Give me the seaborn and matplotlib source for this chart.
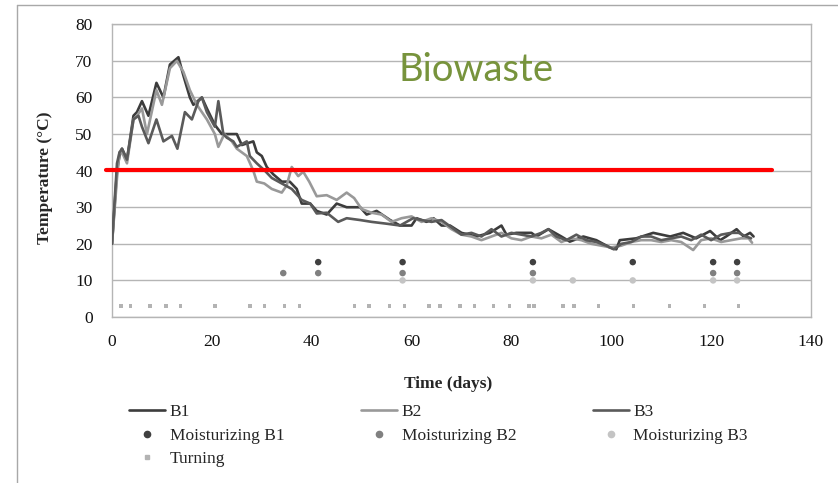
import matplotlib
matplotlib.use("Agg")
import matplotlib.pyplot as plt
from matplotlib.lines import Line2D
import seaborn as sns
import pandas as pd

# ---------------- data ----------------
b1_days = [0, 1, 1.5, 2, 3, 4.3, 5, 6, 7.3, 8.9, 10.3, 11.6, 13.3, 14.3, 15.6, 16.3, 18, 19,
           20.6, 22, 24.3, 25, 26, 28.3, 29, 30, 31, 32.3, 34, 35.6, 37, 38, 39.7, 41, 43, 45,
           47, 49.7, 51, 53, 55.7, 57.7, 60, 61, 63, 64.4, 66, 67.7, 70, 73, 75.7, 78, 79, 81,
           84, 85, 87.4, 90, 91.7, 94.4, 97, 99.7, 101, 101.7, 105, 108.4, 111.8, 114.4, 117,
           119.8, 121.8, 123, 125.1, 126.5, 127.8, 128.5]
b1_temp = [20, 40, 44, 46, 43, 55, 56, 59, 55, 64, 60, 69, 71, 66, 60, 58, 60, 57,
           52.5, 50, 50, 50, 47, 48, 45, 44, 41, 39, 37, 37, 35, 31, 31, 29, 28, 31,
           30, 30, 28, 29, 26.5, 25, 25, 27, 26, 27, 25, 25, 23, 22, 23, 25, 22.5, 23,
           23, 22, 24, 22, 20.6, 22, 21, 19, 18.5, 21, 21.5, 23, 22, 23, 21.5,
           23.5, 21, 22, 24, 22, 23, 22]

b2_days = [0, 1, 1.5, 2, 3, 4.3, 5, 6, 7, 8.9, 10, 11.6, 13, 14.3, 15.6, 17, 19, 20.6, 21.3,
           22.5, 24, 25, 27, 28.3, 29, 30.5, 32, 34, 35, 36, 37.3, 38.3, 39.5, 41, 43, 45, 47,
           48.5, 50, 52, 54, 56, 58, 60, 62, 64, 66, 68, 70, 72, 74, 76, 78, 80, 82, 84, 86,
           88, 90, 92, 94, 96, 98, 100, 102, 104, 106, 108, 110, 112, 114, 116.4, 118, 120,
           122, 124, 126, 127.5, 128.2]
b2_temp = [20, 38, 45, 45, 42, 54, 55, 57, 50, 62, 58, 68, 70, 67, 62, 58, 54, 50, 46.5,
           50, 48, 46, 44, 40, 37, 36.5, 35, 34, 36, 41, 38.5, 39.7, 37, 33, 33.3, 32, 34,
           32.5, 29.5, 28.5, 28, 26, 27, 27.5, 26, 27, 26, 24, 22.5, 22, 21, 22, 23, 21.5, 21, 22, 21.5,
           22.5, 20.5, 21.5, 21, 20, 19.5, 19, 19.5, 20.5, 21, 21, 20.5, 21, 20.5, 18.3, 21, 21.5,
           20.5, 21, 21.5, 21.5, 20.3]

b3_days = [0, 1, 1.5, 2, 3, 4.3, 5.3, 6, 7.3, 8.9, 10.3, 12, 13.1, 14.6, 16, 17.3, 18, 19, 20.6,
           21.3, 22.3, 23, 24.3, 25, 27, 27.6, 29, 30.6, 32, 34, 36, 38, 39.7, 41, 43, 45.3, 47,
           49.7, 52, 55, 57.7, 60.3, 62, 64, 66, 68, 70, 72, 74, 76, 78, 80, 82, 84, 86, 87.4,
           89, 91, 93, 95, 97, 99, 100.5, 102, 104, 106, 108, 110, 112, 114, 116, 118, 120,
           122, 124, 125.5, 127, 128]
b3_temp = [20, 42, 45, 46, 43, 54, 55, 52, 47.5, 54, 48, 49.5, 46, 56, 54, 59, 60, 56, 52,
           59, 50, 49, 48, 46.5, 48, 44, 42, 40, 38, 36.5, 35, 32, 31, 28.3, 28.5, 26, 27,
           26.5, 26, 25.5, 25, 27, 26.5, 26, 26.5, 24.5, 22.5, 23, 22, 24, 22, 23, 22.5, 22, 23, 24,
           22, 21, 22.5, 21, 20.5, 19.5, 18.5, 20, 20.5, 22, 22, 21, 21.5, 22, 21, 22.5, 21,
           22.5, 23, 23, 22, 21.5]

moist_b1_days = [41.3, 58.2, 84.3, 104.3, 120.4, 125.2]
moist_b1_temp = [15, 15, 15, 15, 15, 15]
moist_b2_days = [34.3, 41.3, 58.2, 84.3, 120.4, 125.2]
moist_b2_temp = [12, 12, 12, 12, 12, 12]
moist_b3_days = [58.2, 84.3, 92.3, 104.3, 120.4, 125.2]
moist_b3_temp = [10, 10, 10, 10, 10, 10]

turning_days = [1.8, 3.7, 7.6, 10.8, 13.7, 20.6, 27.6, 30.5, 34.6, 37.6, 48.6, 51.5, 55.6,
                58.6, 63.5, 65.7, 69.7, 72.6, 76.4, 79.6, 83.5, 84.5, 90.3, 92.5, 97.4, 104.5,
                111.6, 118.7, 125.5]
turning_temp = [3] * len(turning_days)

threshold = 40.3
threshold_span = [-1.2, 132.1]

x_ticks = [0, 20, 40, 60, 80, 100, 120, 140]
y_ticks = [0, 10, 20, 30, 40, 50, 60, 70, 80]

# ---------------- styling ----------------
sns.set_style("white")
plt.rcParams["font.family"] = ["Liberation Serif", "DejaVu Serif"]

W, H = 838, 483
fig = plt.figure(figsize=(W / 100, H / 100), dpi=100)
ax = fig.add_axes([112 / W, 1 - 317 / H, (811 - 112) / W, (317 - 24.3) / H])

line_df = pd.concat([
    pd.DataFrame({"day": b1_days, "temp": b1_temp, "series": "B1"}),
    pd.DataFrame({"day": b2_days, "temp": b2_temp, "series": "B2"}),
    pd.DataFrame({"day": b3_days, "temp": b3_temp, "series": "B3"}),
], ignore_index=True)
line_colors = {"B1": "#3c3c3c", "B2": "#999999", "B3": "#5a5a5a"}

moist_df = pd.concat([
    pd.DataFrame({"day": moist_b1_days, "temp": moist_b1_temp, "series": "Moisturizing B1"}),
    pd.DataFrame({"day": moist_b2_days, "temp": moist_b2_temp, "series": "Moisturizing B2"}),
    pd.DataFrame({"day": moist_b3_days, "temp": moist_b3_temp, "series": "Moisturizing B3"}),
], ignore_index=True)
moist_colors = {"Moisturizing B1": "#404040", "Moisturizing B2": "#808080",
                "Moisturizing B3": "#c4c4c4"}
turn_df = pd.DataFrame({"day": turning_days, "temp": turning_temp})
turn_color = "#b3b3b3"

ax.set_axisbelow(True)
ax.grid(axis="y", color="#b5b5b5", lw=1.0)
ax.grid(axis="x", visible=False)

sns.lineplot(data=line_df, x="day", y="temp", hue="series", palette=line_colors,
             estimator=None, sort=False, legend=False, lw=1.9, ax=ax, zorder=3)
sns.scatterplot(data=moist_df, x="day", y="temp", hue="series", palette=moist_colors,
                s=22, edgecolor="none", legend=False, ax=ax, zorder=4)
sns.scatterplot(data=turn_df, x="day", y="temp", color=turn_color, marker="s", s=6,
                edgecolor="none", legend=False, ax=ax, zorder=4)

ax.plot(threshold_span, [threshold, threshold], color="#ff0000", lw=3, clip_on=False, zorder=5)

ax.set_xlim(0, 140)
ax.set_ylim(0, 80)
ax.set_xticks(x_ticks)
ax.set_yticks(y_ticks)
ax.tick_params(axis="both", length=0, labelsize=12.5, colors="#111111")
ax.tick_params(axis="y", pad=14)
ax.tick_params(axis="x", pad=12)
for s in ax.spines.values():
    s.set_color("#b5b5b5")
    s.set_linewidth(1.0)

ax.set_xlabel("Time (days)", fontsize=12.5, fontweight="bold")
ax.set_ylabel("Temperature (°C)", fontsize=12.5, fontweight="bold")
ax.xaxis.set_label_coords((448 - 112) / 699, (317 - 376) / 292.7)
ax.yaxis.set_label_coords((53 - 112) / 699, (317 - 178) / 292.7)

fig.text(476 / W, 1 - 70 / H, "Biowaste", ha="center", va="center", color="#77933c",
         fontsize=27.5, family=["Lato", "DejaVu Sans"])

# legend (column-major order for a 3-column, row-wise reading layout)
h = [
    Line2D([], [], color=line_colors["B1"], lw=1.9),
    Line2D([], [], ls="none", marker="o", ms=4.5, color=moist_colors["Moisturizing B1"]),
    Line2D([], [], ls="none", marker="s", ms=2.3, color=turn_color),
    Line2D([], [], color=line_colors["B2"], lw=1.9),
    Line2D([], [], ls="none", marker="o", ms=4.5, color=moist_colors["Moisturizing B2"]),
    Line2D([], [], color=line_colors["B3"], lw=1.9),
    Line2D([], [], ls="none", marker="o", ms=4.5, color=moist_colors["Moisturizing B3"]),
]
labels = ["B1", "Moisturizing B1", "Turning", "B2", "Moisturizing B2", "B3", "Moisturizing B3"]
fig.legend(h, labels, loc="upper left", bbox_to_anchor=(129 / W, 1 - 404 / H), ncol=3,
           frameon=False, fontsize=12.5, handlelength=2.1, handletextpad=0.25,
           columnspacing=4.4, labelspacing=0.42, borderaxespad=0, borderpad=0)

# outer chart frame (partial)
fig.add_artist(Line2D([17 / W, 17 / W], [0, 1 - 5 / H], transform=fig.transFigure,
                      color="#a8a8a8", lw=1))
fig.add_artist(Line2D([17 / W, 1], [1 - 5 / H, 1 - 5 / H], transform=fig.transFigure,
                      color="#a8a8a8", lw=1))

fig.savefig("out.png", dpi=100, facecolor="white")
